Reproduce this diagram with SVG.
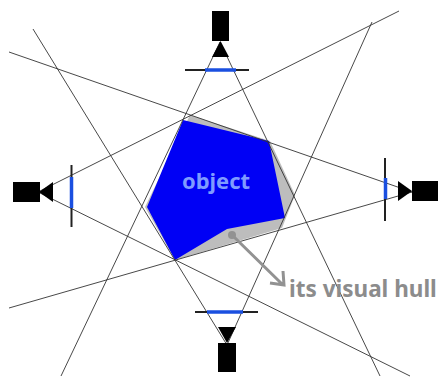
<svg xmlns="http://www.w3.org/2000/svg" width="438" height="378" viewBox="0 0 438 378">
<style>
.ray{stroke:#333;stroke-width:.9;fill:none}
.film{stroke:#222;stroke-width:2;fill:none}
.img{stroke:#1a4fe0;stroke-width:3.5;fill:none}
.cam{fill:#000}
text{font-family:"Noto Sans",sans-serif;font-weight:bold;font-size:22px}
</style>
<rect width="438" height="378" fill="#fff"/>
<g id="hull"><polygon points="190,115 270,141 295,195 282,228 175,260 145,207" fill="#bdbdbd"/></g>
<g id="object"><polygon points="183,120 269,141 285,218 227,229 175,260 147,207" fill="#0000f5"/><text x="216" y="189" fill="#7f9bff" text-anchor="middle">object</text></g>
<g id="connectors">
<path class="ray" d="M220,42L61,376M220,42L380,376M38,192L399,11M38,192L410,376M412,192L9,52M412,192L9,308M227,345L33,29M227,345L372,22"/>
</g>
<g id="camera-top"><rect class="cam" x="212" y="11" width="17" height="30"/><polygon class="cam" points="220.500,41 212,57 229,57"/><path class="film" d="M185,70H249"/><path class="img" d="M205,70H236"/></g>
<g id="camera-left"><rect class="cam" x="13" y="182" width="27" height="20"/><polygon class="cam" points="39,192 53,182 53,202"/><path class="film" d="M71.500,165V227"/><path class="img" d="M71.500,177V208"/></g>
<g id="camera-right"><rect class="cam" x="412" y="181" width="26" height="20"/><polygon class="cam" points="412,191 398,181 398,201"/><path class="film" d="M385,158V221"/><path class="img" d="M385.500,178V199"/></g>
<g id="camera-bottom"><rect class="cam" x="218" y="343" width="18" height="29"/><polygon class="cam" points="227,343 218,327 236,327"/><path class="film" d="M195,312H258"/><path class="img" d="M207,312H243"/></g>
<g id="label"><path d="M232,235L282,284M270,283L284,285L283,271" stroke="#929292" stroke-width="3" fill="none"/><circle cx="232" cy="235" r="4" fill="#929292"/><text x="289" y="297" fill="#8c8c8c" style="font-size:22.500px">its visual hull</text></g>
</svg>
